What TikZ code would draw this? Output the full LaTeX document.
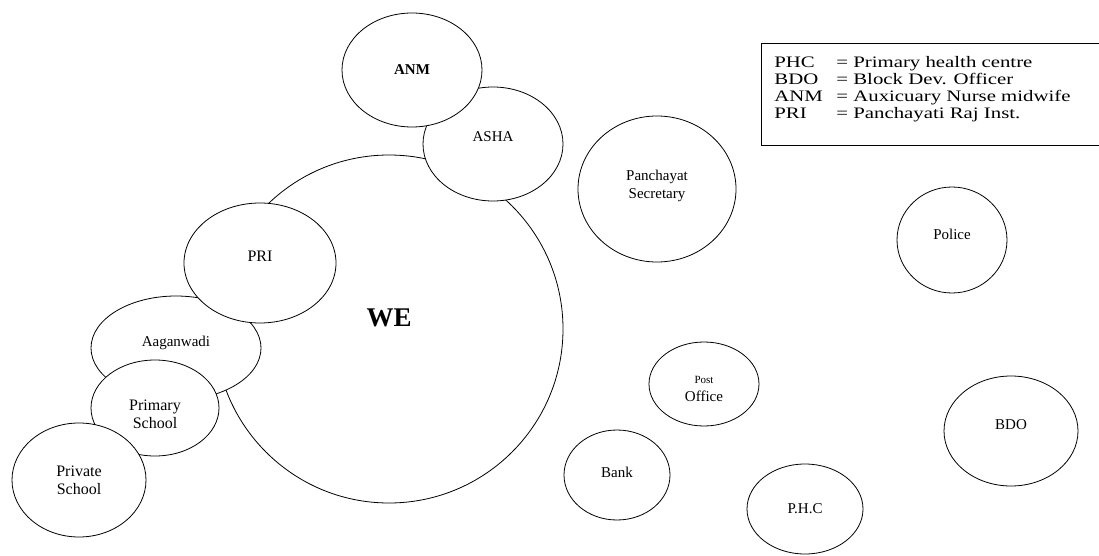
\documentclass[tikz,border=0pt]{standalone}
\usepackage{fontspec}
\setmainfont{Liberation Serif}
\newfontfamily\legendfont[FakeStretch=1.3]{Liberation Serif}
\usetikzlibrary{shapes.geometric}

\begin{document}
\begin{tikzpicture}[x=1pt, y=-1pt, line width=0.8pt,
    bubble/.style={ellipse, draw, fill=white, inner sep=0pt, align=center,
      font=\fontsize{15}{18}\selectfont},
    lift/.style={text depth=#1},   % pushes the label up by #1/2
    drop/.style={text height=#1}]  % pushes the label down
    \useasboundingbox (0,0) rectangle (1099,556);

    % big circle in the middle
    \node[bubble, lift=22pt, minimum width=348pt, minimum height=348pt,
      font=\fontsize{27}{30}\selectfont\bfseries] (we) at (389,329) {WE};

    % left chain
    \node[bubble, lift=13pt, minimum width=170pt, minimum height=104pt] (aagan) at (176,348) {Aaganwadi};
    \node[bubble, lift=14pt, minimum width=152pt, minimum height=120pt, font=\fontsize{16}{18}\selectfont] (pri) at (260,263) {PRI};
    \node[bubble, drop=42pt, minimum width=128pt, minimum height=96pt, font=\fontsize{16}{18}\selectfont] (primary) at (155,408) {Primary\\School};
    \node[bubble, minimum width=134pt, minimum height=114pt, font=\fontsize{16}{18}\selectfont] (private) at (79,480) {Private\\School};

    % top
    \node[bubble, lift=14pt, minimum width=140pt, minimum height=114pt] (asha) at (493,144) {ASHA};
    \node[bubble, minimum width=140pt, minimum height=114pt, font=\fontsize{15}{18}\selectfont\bfseries] (anm) at (412,70) {ANM};
    \node[bubble, minimum width=158pt, minimum height=146pt] (panch) at (657,189) {Panchayat\\Secretary\\[-8pt]};

    % right side
    \node[bubble, drop=35pt, minimum width=110pt, minimum height=84pt] (post) at (704,384) {\fontsize{11}{13}\selectfont Post\\Office};
    \node[bubble, lift=6pt, minimum width=106pt, minimum height=90pt] (bank) at (617,475) {Bank};
    \node[bubble, minimum width=116pt, minimum height=90pt] (phc) at (805,509) {P.H.C};
    \node[bubble, lift=12pt, minimum width=110pt, minimum height=106pt] (police) at (952,240) {Police};
    \node[bubble, lift=12pt, minimum width=134pt, minimum height=110pt] (bdo) at (1011,431) {BDO};

    % legend
    \draw (1099,43) -- (761,43) -- (761,145) -- (1099,145);
    \node[anchor=north west, inner sep=0pt, font=\legendfont\fontsize{16}{17}\selectfont] (legend) at (774,55.5)
      {\begin{tabular}{@{}l@{\hspace{13.5pt}}l@{}}
        PHC & = Primary health centre\\
        BDO & = Block Dev. Officer\\
        ANM & = Auxicuary Nurse midwife\\
        PRI & = Panchayati Raj Inst.
      \end{tabular}};
\end{tikzpicture}
\end{document}
